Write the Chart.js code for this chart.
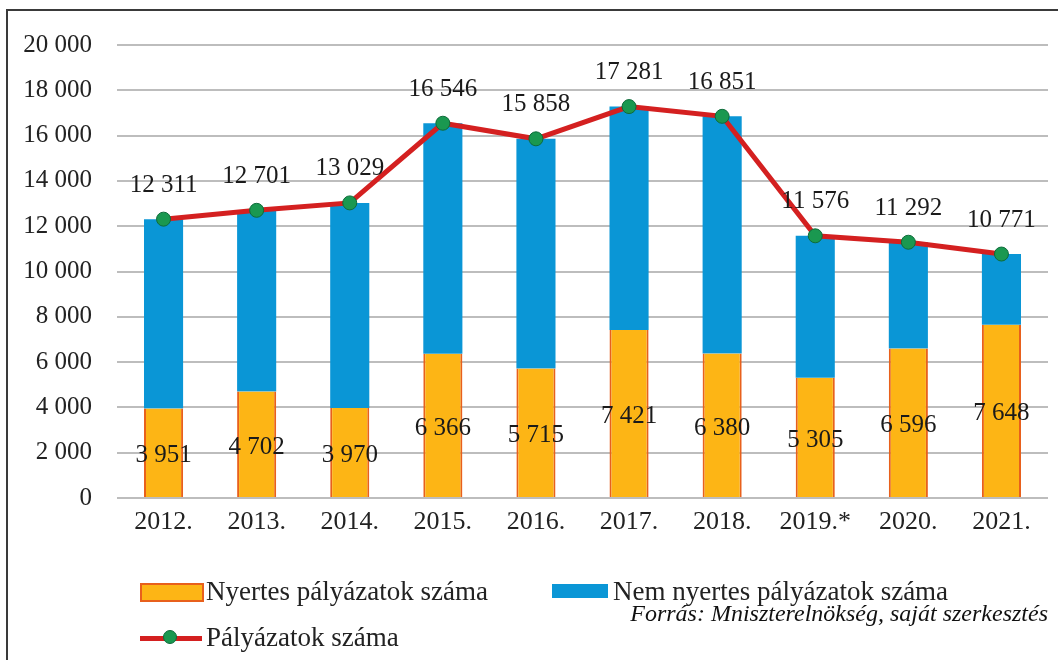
<!DOCTYPE html>
<html>
<head>
<meta charset="utf-8">
<script src="https://cdn.jsdelivr.net/npm/chart.js@4"></script>
<style>
  body { margin: 0; background: #fff; font-family: "Liberation Serif", serif; }
  #wrap { position: relative; width: 1058px; height: 660px; overflow: hidden; }
  #frame { position: absolute; left: 6px; top: 9px; width: 1080px; height: 700px; border: 2px solid #3a3a3a; box-sizing: border-box; }
  canvas { position: absolute; left: 0; top: 0; }
  .leg { position: absolute; font-size: 27px; color: #222; line-height: 28px; white-space: nowrap; }
  .sw { position: absolute; }
  #source { position: absolute; right: 10px; top: 600px; font-size: 24px; font-style: italic; color: #111; white-space: nowrap; }
</style>
</head>
<body>
<div id="wrap">
  <div id="frame"></div>
  <canvas id="chart" width="1058" height="660"></canvas>

  <div class="sw" style="left:140px;top:583px;width:60px;height:15px;background:#FDB515;border:2px solid #E8601C;"></div>
  <div class="leg" style="left:206px;top:577px;">Nyertes pályázatok száma</div>

  <div class="sw" style="left:552px;top:584px;width:56px;height:14px;background:#0A96D6;"></div>
  <div class="leg" style="left:613px;top:577px;">Nem nyertes pályázatok száma</div>

  <div class="sw" style="left:140px;top:636px;width:62px;height:5px;background:#D42020;"></div>
  <div class="sw" style="left:163px;top:630px;width:14px;height:14px;border-radius:50%;background:#1A9850;border:1px solid #0E6B3A;box-sizing:border-box;"></div>
  <div class="leg" style="left:206px;top:623px;">Pályázatok száma</div>

  <div id="source">Forrás: Mniszterelnökség, saját szerkesztés</div>
</div>

<script>
const years = ["2012.", "2013.", "2014.", "2015.", "2016.", "2017.", "2018.", "2019.*", "2020.", "2021."];
const totalApplications = [12311, 12701, 13029, 16546, 15858, 17281, 16851, 11576, 11292, 10771];
const winningApplications = [3951, 4702, 3970, 6366, 5715, 7421, 6380, 5305, 6596, 7648];
const losingApplications = totalApplications.map((t, i) => t - winningApplications[i]);

const formatNum = (n) => String(n).replace(/\B(?=(\d{3})+(?!\d))/g, " ");

const labelFont = '25px "Liberation Serif"';

// draws the number labels above the line and inside the orange bars
const valueLabels = {
    id: "valueLabels",
    afterDatasetsDraw(chart) {
        const ctx = chart.ctx;
        ctx.save();
        ctx.font = labelFont;
        ctx.fillStyle = "#1a1a1a";
        ctx.textAlign = "center";
        ctx.textBaseline = "middle";

        chart.getDatasetMeta(2).data.forEach((pt, i) => {
            ctx.fillText(formatNum(totalApplications[i]), pt.x, pt.y - 34);
        });

        chart.getDatasetMeta(0).data.forEach((bar, i) => {
            ctx.fillText(formatNum(winningApplications[i]), bar.x, (bar.y + bar.base) / 2 + 3);
        });
        ctx.restore();
    },
};

new Chart(document.getElementById("chart"), {
    type: "bar",
    data: {
        labels: years,
        datasets: [
            {
                label: "Nyertes pályázatok száma",
                data: winningApplications,
                backgroundColor: "#FDB515",
                borderColor: "#E8601C",
                borderWidth: { left: 2, right: 2, top: 0, bottom: 0 },
                borderSkipped: false,
                barPercentage: 0.42,
                categoryPercentage: 1,
                order: 1,
            },
            {
                label: "Nem nyertes pályázatok száma",
                data: losingApplications,
                backgroundColor: "#0A96D6",
                borderWidth: 0,
                barPercentage: 0.42,
                categoryPercentage: 1,
                order: 1,
            },
            {
                type: "line",
                label: "Pályázatok száma",
                data: totalApplications,
                borderColor: "#D42020",
                borderWidth: 5,
                pointRadius: 7,
                pointBackgroundColor: "#1A9850",
                pointBorderColor: "#0E6B3A",
                pointBorderWidth: 1,
                tension: 0,
                stack: "total",
                order: 0,
            },
        ],
    },
    options: {
        responsive: false,
        animation: false,
        layout: { padding: { left: 0, right: 10, top: 45, bottom: 120 } },
        plugins: {
            legend: { display: false },
            tooltip: { enabled: false },
        },
        scales: {
            x: {
                stacked: true,
                grid: { display: false, drawTicks: false },
                border: { display: false },
                ticks: {
                    font: { family: "Liberation Serif", size: 26 },
                    color: "#222",
                    padding: 9,
                    maxRotation: 0,
                    autoSkip: false,
                },
                afterFit: (scale) => { scale.height = 42; },
            },
            y: {
                stacked: true,
                min: 0,
                max: 20000,
                grid: { color: "#BDBDBD", lineWidth: 2, drawTicks: false },
                border: { display: false },
                ticks: {
                    stepSize: 2000,
                    font: { family: "Liberation Serif", size: 25 },
                    color: "#222",
                    padding: 25,
                    callback: (v) => formatNum(v),
                },
                afterFit: (scale) => { scale.width = 117; },
            },
        },
    },
    plugins: [valueLabels],
});
</script>
</body>
</html>
